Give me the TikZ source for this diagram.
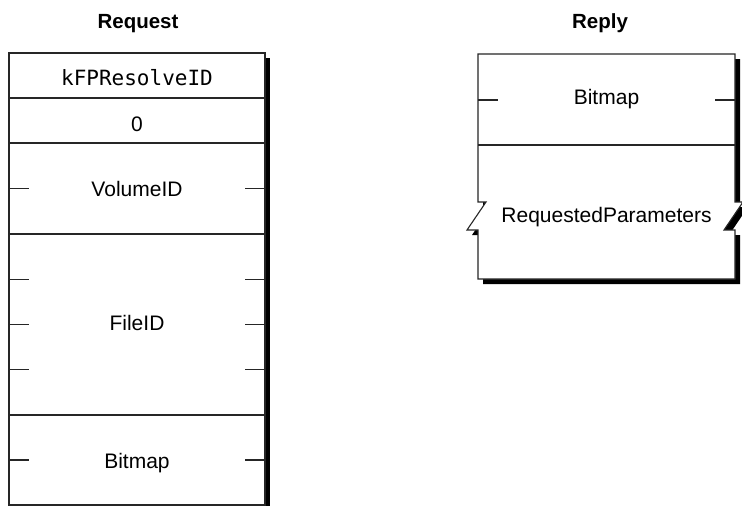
\documentclass[tikz,border=0pt]{standalone}
\usepackage{fontspec}
\setmainfont{Liberation Sans}
\newfontfamily\monofont{DejaVu Sans Mono}
\tikzset{
  boxline/.style={draw=black!85, line width=1.1pt, fill=white},
  rowline/.style={draw=black!85, line width=1.1pt},
  tick/.style={draw=black!85, line width=1.1pt},
  shadowfill/.style={fill=black, draw=none},
  body/.style={anchor=base, inner sep=0pt, font=\fontsize{21}{24}\selectfont},
  mono/.style={anchor=base, inner sep=0pt, font=\monofont\fontsize{21}{24}\selectfont},
  head/.style={anchor=base, inner sep=0pt, font=\bfseries\fontsize{20.5}{23}\selectfont},
}
\begin{document}
\begin{tikzpicture}[x=1pt,y=-1pt]
\useasboundingbox (0,0) rectangle (742,506);
\clip (0,0) rectangle (742,506);
\fill[white] (0,0) rectangle (742,506);

% ---------- Request ----------
\node[head] (reqhead) at (138,28) {Request};
\fill[shadowfill] (14,58) rectangle (270,510);
\draw[boxline] (9,53) rectangle (265,505);
\draw[rowline] (9,98) -- (265,98);
\draw[rowline] (9,143) -- (265,143);
\draw[rowline] (9,234) -- (265,234);
\draw[rowline] (9,415) -- (265,415);
\node[mono] (cmd) at (137,85) {kFPResolveID};
\node[body] (zero) at (137,131.5) {0};
\node[body] (vol) at (137,196.5) {VolumeID};
\node[body] (fid) at (137,330) {FileID};
\node[body] (bmp1) at (137,468) {Bitmap};
\foreach \yy in {188.5,279.25,324.5,369.75,460}{
  \draw[tick] (9,\yy) -- (29,\yy);
  \draw[tick] (245,\yy) -- (265,\yy);
}

% ---------- Reply ----------
\node[head] (rephead) at (600,28) {Reply};
\fill[shadowfill] (483,59) -- (740,59) -- (740,207) -- (748,207) -- (729,235) -- (740,235)
  -- (740,284) -- (483,284) -- (483,235) -- (472,235) -- (491,207) -- (483,207) -- cycle;
\draw[boxline] (478,54) -- (735,54) -- (735,202) -- (743,202) -- (724,230) -- (735,230)
  -- (735,279) -- (478,279) -- (478,230) -- (467,230) -- (486,202) -- (478,202) -- cycle;
\draw[rowline] (478,145) -- (735,145);
\node[body] (bmp2) at (606.5,104.5) {Bitmap};
\node[body] (rp) at (606.5,222) {RequestedParameters};
\draw[tick] (478,100) -- (498,100);
\draw[tick] (715,100) -- (735,100);
\end{tikzpicture}
\end{document}
